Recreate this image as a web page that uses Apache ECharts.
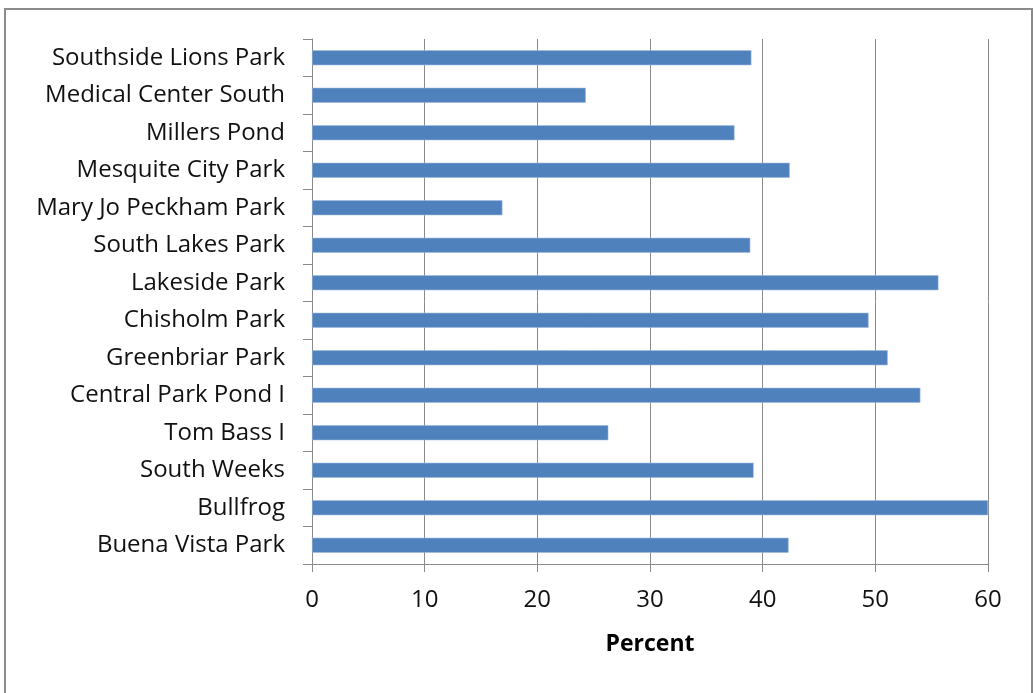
<!DOCTYPE html>
<html>
<head>
<meta charset="utf-8">
<script src="https://cdn.jsdelivr.net/npm/echarts@6/dist/echarts.min.js"></script>
<style>
  html, body { margin: 0; padding: 0; background: #fff; }
  #chart { width: 1035px; height: 693px; }
</style>
</head>
<body>
<div id="chart"></div>
<script>
// Park names, top to bottom
const parks = [
  'Southside Lions Park',
  'Medical Center South',
  'Millers Pond',
  'Mesquite City Park',
  'Mary Jo Peckham Park',
  'South Lakes Park',
  'Lakeside Park',
  'Chisholm Park',
  'Greenbriar Park',
  'Central Park Pond I',
  'Tom Bass I',
  'South Weeks',
  'Bullfrog',
  'Buena Vista Park'
];

// Percent value for each park
const percentValues = [39.0, 24.3, 37.5, 42.4, 16.9, 38.9, 55.6, 49.4, 51.1, 54.0, 26.3, 39.2, 60.0, 42.3];

// Percent axis ticks
const percentTicks = [0, 10, 20, 30, 40, 50, 60];

const fontFamily = '"Open Sans", sans-serif';
const gridColor = '#8a8a8a';

const chart = echarts.init(document.getElementById('chart'), null, { renderer: 'canvas' });

chart.setOption({
  backgroundColor: '#ffffff',
  animation: false,
  graphic: [{
    type: 'rect',
    shape: { x: 5, y: 9, width: 1027, height: 700 },
    style: { fill: 'none', stroke: '#8c8c8c', lineWidth: 2 },
    silent: true
  }],
  grid: { left: 312, right: 47, top: 39, bottom: 129, containLabel: false },
  xAxis: {
    type: 'value',
    min: percentTicks[0],
    max: percentTicks[percentTicks.length - 1],
    interval: percentTicks[1] - percentTicks[0],
    name: 'Percent',
    nameLocation: 'middle',
    nameGap: 69,
    nameTextStyle: { fontFamily, fontSize: 23, fontWeight: 'bold', color: '#000' },
    axisLine: { show: true, lineStyle: { color: gridColor, width: 1 } },
    axisTick: { show: true, length: 8, lineStyle: { color: gridColor } },
    axisLabel: { fontFamily, fontSize: 24, color: '#111', margin: 24 },
    splitLine: { show: true, lineStyle: { color: gridColor, width: 1 } }
  },
  yAxis: {
    type: 'category',
    data: parks,
    inverse: true,
    axisLine: { show: true, lineStyle: { color: gridColor, width: 1 } },
    axisTick: { show: true, length: 9, lineStyle: { color: gridColor } },
    axisLabel: { fontFamily, fontSize: 24, color: '#111', margin: 27, padding: [3, 0, 0, 0] },
    splitLine: { show: false }
  },
  series: [{
    type: 'bar',
    data: percentValues,
    barWidth: 15,
    itemStyle: { color: '#4f81bd', borderColor: '#9db8da', borderWidth: 0.6 }
  }]
});
</script>
</body>
</html>
